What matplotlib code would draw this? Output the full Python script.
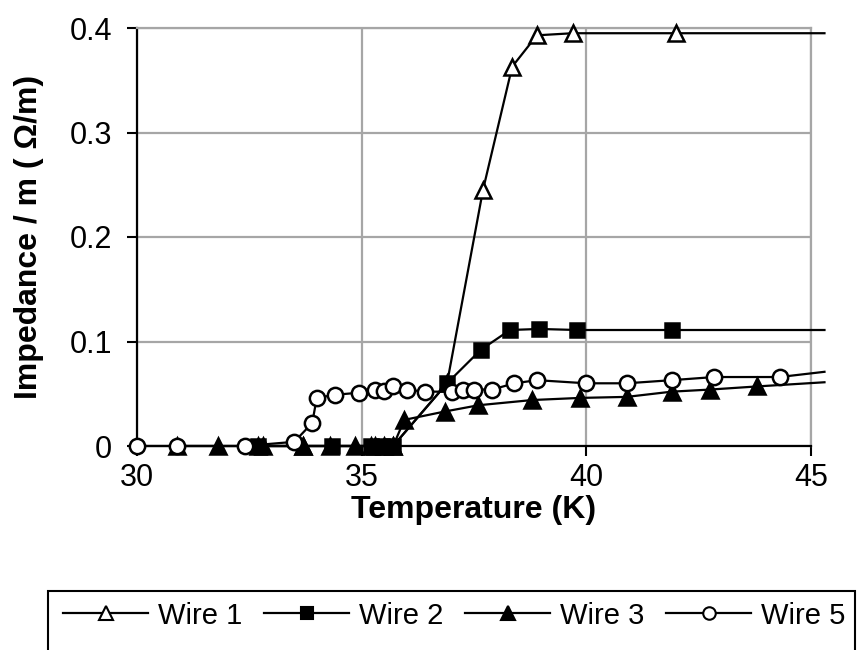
import matplotlib.pyplot as plt
from matplotlib.patches import Rectangle
from matplotlib.lines import Line2D

plt.rcParams['font.family'] = ['Liberation Sans', 'DejaVu Sans']

# data (last point of each series runs just past the frame)
w1_x = [32.7, 33.7, 34.3, 35.3, 35.7, 36.9, 37.7, 38.35, 38.9, 39.7, 42.0, 45.3]
w1_y = [0, 0, 0, 0, 0, 0.060, 0.245, 0.363, 0.393, 0.395, 0.395, 0.395]

w2_x = [32.7, 34.35, 35.2, 35.45, 35.7, 36.9, 37.65, 38.3, 38.95, 39.8, 41.9, 45.3]
w2_y = [0, 0, 0, 0, 0, 0.060, 0.092, 0.111, 0.112, 0.111, 0.111, 0.111]

w3_x = [30.9, 31.8, 32.8, 33.7, 34.85, 35.2, 35.5, 35.7, 35.95, 36.85, 37.6,
        38.8, 39.85, 40.9, 41.9, 42.75, 43.8, 45.3]
w3_y = [0, 0, 0, 0, 0, 0, 0, 0, 0.025, 0.033, 0.039,
        0.044, 0.046, 0.047, 0.052, 0.054, 0.057, 0.061]

w5_x = [30.0, 30.9, 32.4, 33.5, 33.9, 34.0, 34.4, 34.95, 35.3, 35.5, 35.7, 36.0,
        36.4, 37.0, 37.25, 37.5, 37.9, 38.4, 38.9, 40.0, 40.9, 41.9, 42.85, 44.3, 45.3]
w5_y = [0, 0, 0, 0.004, 0.022, 0.046, 0.049, 0.051, 0.054, 0.053, 0.057, 0.054,
        0.052, 0.052, 0.054, 0.054, 0.054, 0.060, 0.063, 0.060, 0.060, 0.063, 0.066, 0.066, 0.071]

x_ticks = [30, 35, 40, 45]
y_ticks = [0, 0.1, 0.2, 0.3, 0.4]
y_ticklabels = ['0', '0.1', '0.2', '0.3', '0.4']
names = ['Wire 1', 'Wire 2', 'Wire 3', 'Wire 5']

grey = '#a6a6a6'

fig = plt.figure(figsize=(8.59, 6.5), dpi=100)
ax = fig.add_axes([137 / 859, 1 - 446 / 650, 674 / 859, 418 / 650])

styles = [
    dict(marker='^', mfc='white', ms=12),
    dict(marker='s', mfc='black', ms=10),
    dict(marker='^', mfc='black', ms=12),
    dict(marker='o', mfc='white', ms=11),
]
series = [(w1_x, w1_y), (w2_x, w2_y), (w3_x, w3_y), (w5_x, w5_y)]
for i, ((xs, ys), st) in enumerate(zip(series, styles)):
    ax.plot(xs, ys, color='black', lw=1.6, mec='black', mew=1.8,
            markevery=slice(0, len(xs) - 1), clip_on=False, zorder=3 + i, **st)

ax.set_xlim(30, 45)
ax.set_ylim(0, 0.4)
ax.set_xticks(x_ticks)
ax.set_yticks(y_ticks)
ax.set_yticklabels(y_ticklabels)
ax.grid(True, color=grey, lw=1.6)
ax.set_axisbelow(True)
for s in ['top', 'right']:
    ax.spines[s].set_color(grey)
    ax.spines[s].set_linewidth(1.6)
for s in ['left', 'bottom']:
    ax.spines[s].set_color('black')
    ax.spines[s].set_linewidth(1.6)
    ax.spines[s].set_zorder(2.5)
ax.tick_params(direction='out', length=7, width=1.5, labelsize=22)
ax.tick_params(axis='x', pad=5)
ax.tick_params(axis='y', pad=11)

ax.set_xlabel('Temperature (K)', fontsize=23, fontweight='bold', labelpad=2)
ax.set_ylabel('Impedance / m ( \u03a9/m)', fontsize=23, fontweight='bold', labelpad=18)

# legend in a box whose bottom edge runs off the figure
fig.patches.append(Rectangle((48 / 859, -0.1), (855 - 48) / 859, 0.1 + (650 - 591) / 650,
                             transform=fig.transFigure, fill=False,
                             edgecolor='black', lw=1.5))
handles = [Line2D([], [], color='black', lw=1.6, mec='black', mew=1.5,
                  marker=st['marker'], mfc=st['mfc'], ms=st['ms'] - 2) for st in styles]
fig.legend(handles, names, loc='center', bbox_to_anchor=(0.529, 0.053), ncol=4,
           frameon=False, fontsize=21, handlelength=2.9, handletextpad=0.35,
           columnspacing=0.75, borderaxespad=0)

fig.savefig('out.png', dpi=100)
